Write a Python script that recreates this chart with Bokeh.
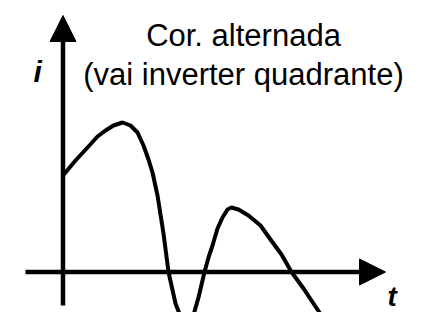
from bokeh.plotting import figure
from bokeh.models import Range1d, Arrow, NormalHead
from bokeh.core.properties import value
from bokeh.embed import file_html
from bokeh.resources import INLINE

# Current curve (t: time, i: current, arbitrary units)
t_vals = [0.00, 0.25, 0.51, 0.69, 0.85, 1.01, 1.19, 1.35, 1.49, 1.61, 1.71, 1.79,
          1.89, 2.01, 2.11, 2.25, 2.39, 2.49, 2.59, 2.71, 2.83, 2.91, 2.99, 3.09,
          3.19, 3.29, 3.37, 3.51, 3.71, 3.95, 4.15, 4.37, 4.57, 4.81, 5.13]
i_vals = [1.93, 2.23, 2.51, 2.71, 2.83, 2.93, 2.99, 2.93, 2.79, 2.53, 2.25, 1.99,
          1.53, 0.77, 0.00, -0.63, -0.99, -1.07, -0.93, -0.51, 0.00, 0.29, 0.53, 0.87,
          1.09, 1.25, 1.29, 1.25, 1.13, 0.93, 0.65, 0.35, 0.00, -0.33, -0.81]

title_lines = ["Cor. alternada", "(vai inverter quadrante)"]
x_label = "t"
y_label = "i"

# axis extents
t_axis = (-0.75, 6.45)
i_axis = (-0.67, 5.13)

FONT = "Liberation Sans"

p = figure(width=413, height=312,
           x_range=Range1d(-1.25, 7.01), y_range=Range1d(-0.81, 5.43),
           output_backend="svg", toolbar_location=None,
           x_axis_type=None, y_axis_type=None, min_border=0)
p.grid.visible = False
p.outline_line_color = None
p.background_fill_color = "white"
p.border_fill_color = "white"

# axes with arrow heads
p.add_layout(Arrow(x_start=t_axis[0], y_start=0, x_end=t_axis[1], y_end=0,
                   line_width=4.5, line_color="black",
                   end=NormalHead(size=26, fill_color="black", line_color="black", line_width=1)))
p.add_layout(Arrow(x_start=0, y_start=i_axis[0], x_end=0, y_end=i_axis[1],
                   line_width=4.5, line_color="black",
                   end=NormalHead(size=26, fill_color="black", line_color="black", line_width=1)))

# curve
p.line(t_vals, i_vals, line_width=4, line_color="black", line_join="round", line_cap="round")

# labels
p.text(x=[-0.59], y=[4.01], text=[y_label], text_font=value(FONT), text_font_size="30px",
       text_font_style="bold italic", text_align="left", text_baseline="alphabetic",
       text_color="black")
p.text(x=[6.49], y=[-0.49], text=[x_label], text_font=value(FONT), text_font_size="28px",
       text_font_style="bold italic", text_align="left", text_baseline="alphabetic",
       text_color="black")

# title (two lines)
p.text(x=[3.61, 3.61], y=[4.73, 3.95], text=title_lines, text_font=value(FONT),
       text_font_size="31px", text_align="center", text_baseline="alphabetic",
       text_color="black")

open("out.html", "w").write(file_html(p, INLINE))
